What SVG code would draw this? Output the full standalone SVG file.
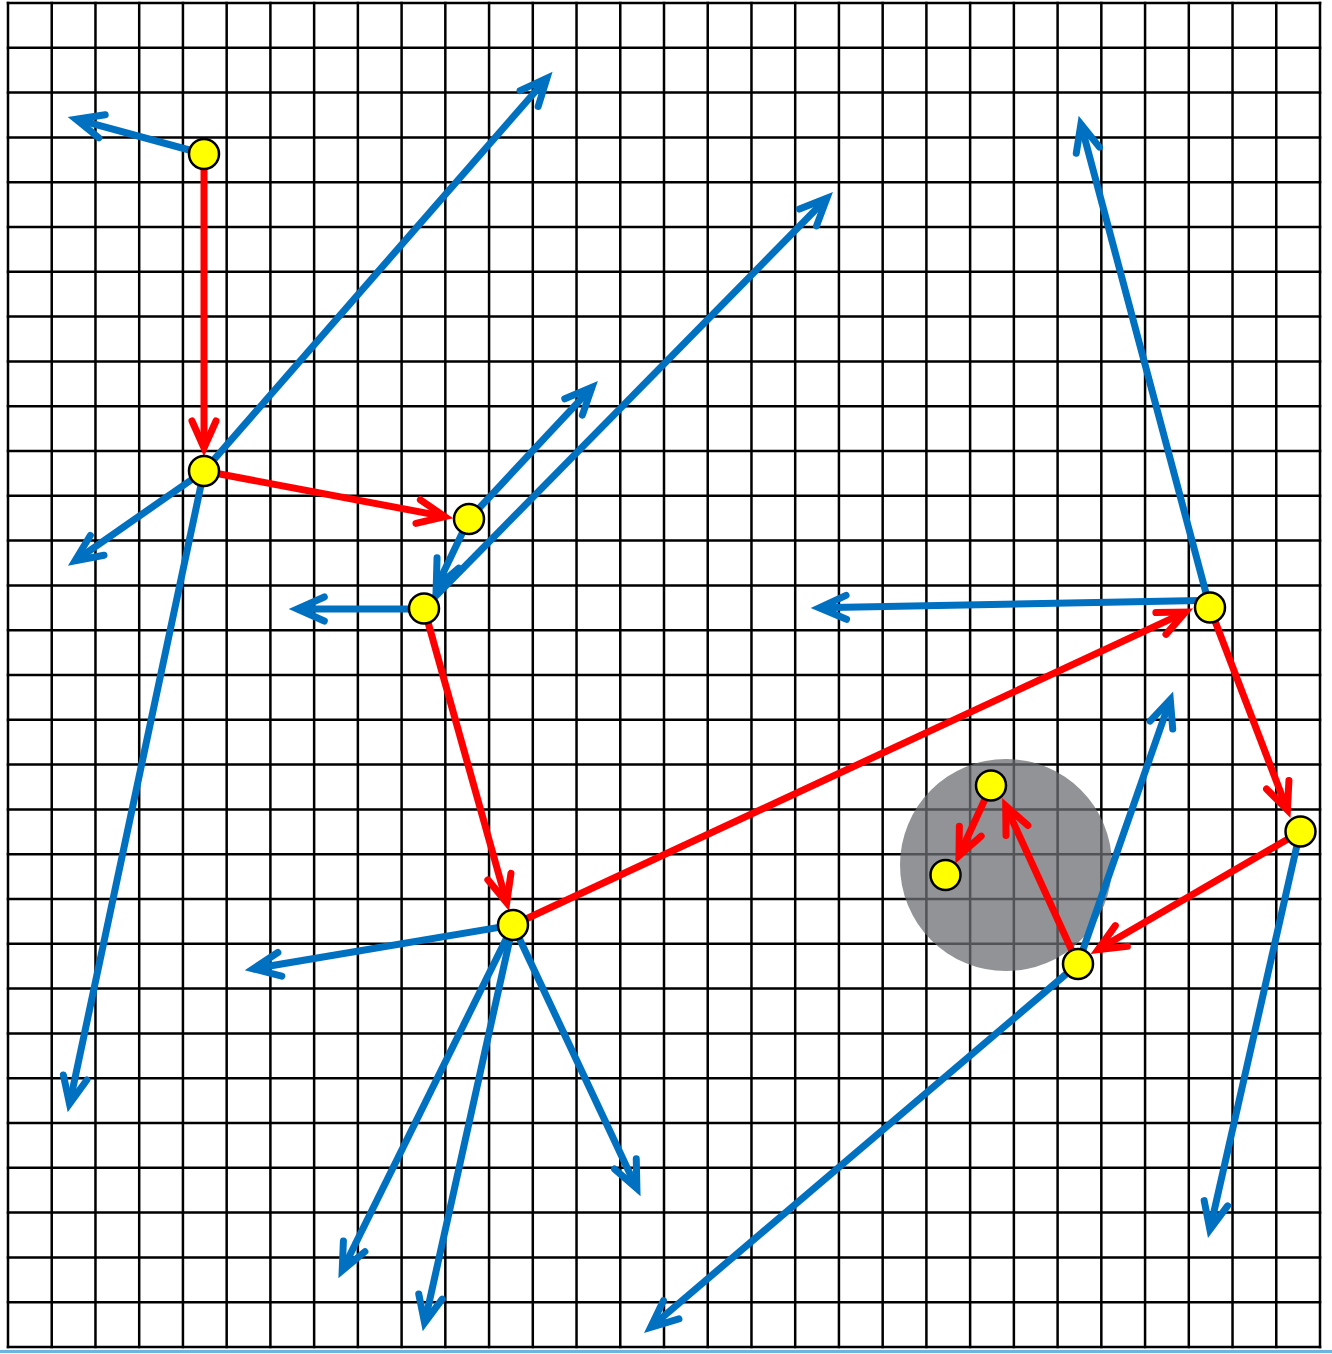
<svg xmlns="http://www.w3.org/2000/svg" width="1332" height="1354" viewBox="0 0 1332 1354">
<style>
.grid{stroke:#000;stroke-width:2.5;fill:none;stroke-linecap:square}
.blue{stroke:#0070c0;stroke-width:7;fill:none}
.red{stroke:#ff0000;stroke-width:7;fill:none}
.node{fill:#ffff00;stroke:#000;stroke-width:2.5}
</style>
<defs>
<marker id="ab" markerUnits="userSpaceOnUse" orient="auto" refX="0" refY="0" markerWidth="1" markerHeight="1" overflow="visible">
<path d="M-27,-12 L0,0 L-27,12" fill="none" stroke="#0070c0" stroke-width="7" stroke-linecap="round" stroke-linejoin="miter" stroke-miterlimit="10"/>
</marker>
<marker id="ar" markerUnits="userSpaceOnUse" orient="auto" refX="0" refY="0" markerWidth="1" markerHeight="1" overflow="visible">
<path d="M-27,-12 L0,0 L-27,12" fill="none" stroke="#ff0000" stroke-width="7" stroke-linecap="round" stroke-linejoin="miter" stroke-miterlimit="10"/>
</marker>
</defs>
<rect width="1332" height="1354" fill="#fff"/>
<g id="grid">
<path class="grid" d="M8,3V1347 M51.73,3V1347 M95.47,3V1347 M139.2,3V1347 M182.93,3V1347 M226.67,3V1347 M270.4,3V1347 M314.13,3V1347 M357.87,3V1347 M401.6,3V1347 M445.33,3V1347 M489.07,3V1347 M532.8,3V1347 M576.53,3V1347 M620.27,3V1347 M664,3V1347 M707.73,3V1347 M751.47,3V1347 M795.2,3V1347 M838.93,3V1347 M882.67,3V1347 M926.4,3V1347 M970.13,3V1347 M1013.87,3V1347 M1057.6,3V1347 M1101.33,3V1347 M1145.07,3V1347 M1188.8,3V1347 M1232.53,3V1347 M1276.27,3V1347 M1320,3V1347"/>
<path class="grid" d="M8,3H1320 M8,47.8H1320 M8,92.6H1320 M8,137.4H1320 M8,182.2H1320 M8,227H1320 M8,271.8H1320 M8,316.6H1320 M8,361.4H1320 M8,406.2H1320 M8,451H1320 M8,495.8H1320 M8,540.6H1320 M8,585.4H1320 M8,630.2H1320 M8,675H1320 M8,719.8H1320 M8,764.6H1320 M8,809.4H1320 M8,854.2H1320 M8,899H1320 M8,943.8H1320 M8,988.6H1320 M8,1033.4H1320 M8,1078.2H1320 M8,1123H1320 M8,1167.8H1320 M8,1212.6H1320 M8,1257.4H1320 M8,1302.2H1320 M8,1347H1320"/>
<line x1="0" y1="1351.5" x2="1332" y2="1351.5" stroke="#6bb5e0" stroke-width="3"/>
</g>
<circle id="zone" cx="1006" cy="865" r="106" fill="#6e6f73" opacity="0.75"/>
<g id="connectors">
<line class="blue" x1="204" y1="154" x2="76" y2="119.2" marker-end="url(#ab)"/>
<line class="blue" x1="204" y1="471" x2="546.9" y2="78.2" marker-end="url(#ab)"/>
<line class="blue" x1="204" y1="471" x2="75" y2="560.8" marker-end="url(#ab)"/>
<line class="blue" x1="204" y1="471" x2="69.5" y2="1103.9" marker-end="url(#ab)"/>
<line class="blue" x1="469" y1="519" x2="592" y2="387.3" marker-end="url(#ab)"/>
<line class="blue" x1="469" y1="519" x2="436.2" y2="587.4" marker-end="url(#ab)"/>
<line class="blue" x1="424" y1="608" x2="826.9" y2="198.2" marker-end="url(#ab)"/>
<line class="blue" x1="424" y1="609" x2="297.3" y2="609" marker-end="url(#ab)"/>
<line class="blue" x1="513" y1="925" x2="253.2" y2="968.8" marker-end="url(#ab)"/>
<line class="blue" x1="513" y1="925" x2="342.2" y2="1270.5" marker-end="url(#ab)"/>
<line class="blue" x1="513" y1="925" x2="424.6" y2="1322.9" marker-end="url(#ab)"/>
<line class="blue" x1="513" y1="925" x2="636.9" y2="1188.4" marker-end="url(#ab)"/>
<line class="blue" x1="1210" y1="608" x2="1080.9" y2="124.1" marker-end="url(#ab)"/>
<line class="blue" x1="1200" y1="600.5" x2="819.3" y2="607.85" marker-end="url(#ab)"/>
<line class="blue" x1="1300" y1="832" x2="1209.9" y2="1229.6" marker-end="url(#ab)"/>
<line class="blue" x1="1078" y1="964" x2="1170.3" y2="699.6" marker-end="url(#ab)"/>
<line class="blue" x1="1078" y1="964" x2="650.6" y2="1327.3" marker-end="url(#ab)"/>
<line class="red" x1="204" y1="154" x2="204" y2="448" marker-end="url(#ar)"/>
<line class="red" x1="204" y1="471" x2="444.7" y2="516.6" marker-end="url(#ar)"/>
<line class="red" x1="424" y1="608" x2="506.7" y2="902.6" marker-end="url(#ar)"/>
<line class="red" x1="513" y1="925" x2="1185.4" y2="612.1" marker-end="url(#ar)"/>
<line class="red" x1="1210" y1="608" x2="1287.4" y2="809.9" marker-end="url(#ar)"/>
<line class="red" x1="1300" y1="832" x2="1098" y2="949.6" marker-end="url(#ar)"/>
<line class="red" x1="1078" y1="964" x2="1005.7" y2="805.9" marker-end="url(#ar)"/>
<line class="red" x1="991" y1="786" x2="959" y2="855.7" marker-end="url(#ar)"/>
</g>
<g id="n1"><circle class="node" cx="204" cy="154" r="15"/></g>
<g id="n2"><circle class="node" cx="204" cy="471" r="15"/></g>
<g id="n3"><circle class="node" cx="469" cy="519" r="15"/></g>
<g id="n4"><circle class="node" cx="424" cy="608.5" r="15"/></g>
<g id="n5"><circle class="node" cx="513" cy="925" r="15"/></g>
<g id="n6"><circle class="node" cx="1210" cy="607.5" r="15"/></g>
<g id="n7"><circle class="node" cx="1300.5" cy="831.5" r="15"/></g>
<g id="n8"><circle class="node" cx="1078" cy="964" r="15"/></g>
<g id="n9"><circle class="node" cx="991" cy="785.5" r="15"/></g>
<g id="n10"><circle class="node" cx="945.5" cy="875" r="15"/></g>
</svg>
